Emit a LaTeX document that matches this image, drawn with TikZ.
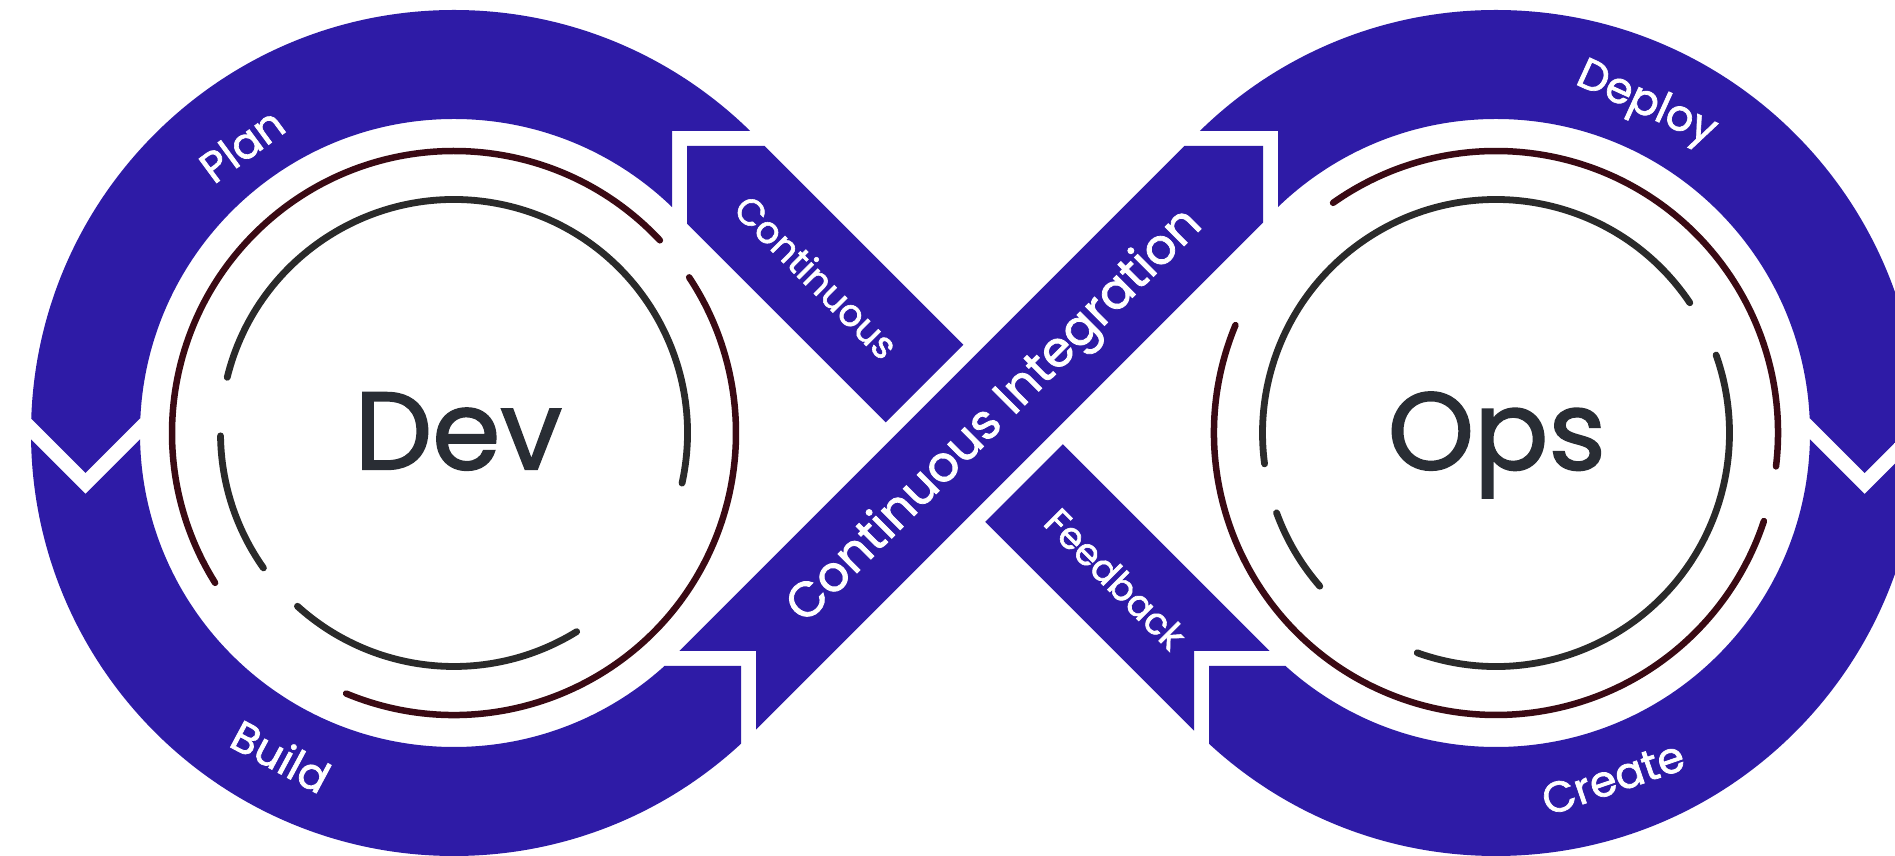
\documentclass[tikz,border=0pt]{standalone}
\usepackage{fontspec}
\setmainfont{Poppins}
\newfontfamily\medfont{Poppins}[FakeBold=1.6]
\definecolor{bandblue}{RGB}{46,27,166}
\definecolor{ringred}{RGB}{58,10,20}
\definecolor{ringgray}{RGB}{42,42,42}
\definecolor{textdark}{RGB}{41,45,52}
\begin{document}
\begin{tikzpicture}[x=1pt,y=1pt,
  band/.style={fill=bandblue, even odd rule},
  ribbon/.style={fill=bandblue},
  redring/.style={draw=ringred, line width=6.5pt, line cap=round},
  grayring/.style={draw=ringgray, line width=6.8pt, line cap=round},
  lbl/.style={text=white, font=\medfont\fontsize{43}{43}\selectfont, inner sep=0pt},
  smalllbl/.style={text=white, font=\medfont\fontsize{37}{37}\selectfont, inner sep=0pt},
  biglbl/.style={text=white, font=\medfont\fontsize{49}{49}\selectfont, inner sep=0pt},
  title/.style={text=textdark, font=\medfont\fontsize{110}{110}\selectfont, inner sep=0pt, anchor=base}]
\useasboundingbox (0,0) rectangle (1895,856);
\clip (0,0) rectangle (1895,856);
\fill[white] (0,0) rectangle (1895,856);

\coordinate (dev) at (454,423);
\coordinate (ops) at (1496,423);

% ---- Dev band: Plan
\begin{scope}
  \clip (-100,956) -- (1000,956) -- (1000,725) -- (672,725) -- (672,437.5) -- (140,437.5) -- (85.5,383) -- (-100,568.5) -- cycle;
  \fill[band] (dev) circle[radius=423] (dev) circle[radius=314];
\end{scope}
% ---- Dev band: Build
\begin{scope}
  \clip (-100,547.5) -- (85.5,362) -- (140,416.5) -- (600,416.5) -- (600,190) -- (741,190) -- (741,-44) -- (-100,-44) -- cycle;
  \fill[band] (dev) circle[radius=423] (dev) circle[radius=314];
\end{scope}
% ---- Ops band: Deploy
\begin{scope}
  \clip (2050,956) -- (950,956) -- (950,725) -- (1278,725) -- (1278,437.5) -- (1810,437.5) -- (1864.5,383) -- (2050,568.5) -- cycle;
  \fill[band] (ops) circle[radius=423] (ops) circle[radius=314];
\end{scope}
% ---- Ops band: Create
\begin{scope}
  \clip (2050,547.5) -- (1864.5,362) -- (1810,416.5) -- (1350,416.5) -- (1350,190) -- (1209,190) -- (1209,-44) -- (2050,-44) -- cycle;
  \fill[band] (ops) circle[radius=423] (ops) circle[radius=314];
\end{scope}

% ---- ribbons
\fill[ribbon] (687,710) -- (764.7,710) -- (963.35,511.35) -- (885.65,433.65) -- (687,632.3) -- cycle;
\fill[ribbon] (679.3,205) -- (756,205) -- (756,126.3) -- (1263,633.3) -- (1263,710) -- (1184.3,710) -- cycle;
\fill[ribbon] (985.15,334.15) -- (1062.85,411.85) -- (1269.7,205) -- (1194,205) -- (1194,125.3) -- cycle;

% ---- Dev rings
\draw[redring] ([shift={(43.1:282)}]dev) arc[start angle=43.1, end angle=212.1, radius=282];
\draw[redring] ([shift={(247.5:282)}]dev) arc[start angle=247.5, end angle=393.5, radius=282];
\draw[grayring] ([shift={(-12.4:233.5)}]dev) arc[start angle=-12.4, end angle=166.2, radius=233.5];
\draw[grayring] ([shift={(180.7:233.5)}]dev) arc[start angle=180.7, end angle=215.3, radius=233.5];
\draw[grayring] ([shift={(227.9:233.5)}]dev) arc[start angle=227.9, end angle=301.7, radius=233.5];

% ---- Ops rings
\draw[redring] ([shift={(-6.8:282)}]ops) arc[start angle=-6.8, end angle=125.3, radius=282];
\draw[redring] ([shift={(157.5:282)}]ops) arc[start angle=157.5, end angle=341.8, radius=282];
\draw[grayring] ([shift={(33.9:233.5)}]ops) arc[start angle=33.9, end angle=187.6, radius=233.5];
\draw[grayring] ([shift={(200:233.5)}]ops) arc[start angle=200, end angle=221, radius=233.5];
\draw[grayring] ([shift={(250.3:233.5)}]ops) arc[start angle=250.3, end angle=379.5, radius=233.5];

% ---- texts
\node[title] (devt) at (458.3,386.7) {Dev};
\node[title] (opst) at (1496.8,386.5) {Ops};
\node[lbl, rotate=36.4] (plan) at (241.7,711) {Plan};
\node[lbl, rotate=-28.2] (build) at (281,100) {Build};
\node[lbl, rotate=-24.5] (deploy) at (1646,751) {Deploy};
\node[lbl, rotate=19] (create) at (1613,78) {Create};
\node[smalllbl, rotate=-45] (cont) at (816.7,579.3) {Continuous};
\node[smalllbl, rotate=-45] (feed) at (1115.6,277.2) {Feedback};
\node[biglbl, rotate=45] (ci) at (996,439) {Continuous Integration};
\end{tikzpicture}
\end{document}
